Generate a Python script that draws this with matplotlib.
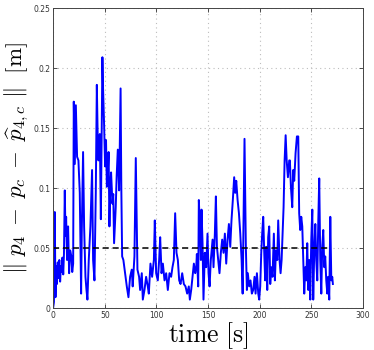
import numpy as np
import matplotlib
matplotlib.use('Agg')
import matplotlib.pyplot as plt

plt.rcParams['mathtext.fontset'] = 'cm'

# error signal (time in s, error in m)
time_s = np.array([
    0, 0.8, 1.6, 2.3, 3.0, 3.7, 4.5, 5.2, 6.0, 6.8, 7.5, 8.3, 9.0, 9.8, 10.5,
    11.3, 12.0, 12.6, 13.5, 14.5, 15.5, 16.5, 17.7, 18.5, 19.4, 20.0, 21.0,
    22.0, 23.2, 24.5, 25.8, 27.1, 27.7, 29.0, 30.0, 31.3, 32.3, 33.2, 34.5,
    36.1, 37.7, 38.7, 40.0, 41.3, 42.3, 43.2, 43.9, 45.2, 46.2, 47.0, 47.7,
    48.3, 49.4, 50.3, 51.2, 52.0, 52.9, 53.7, 54.5, 55.3, 56.1, 57.4, 58.2,
    59.0, 60.6, 61.5, 62.6, 63.9, 64.6, 65.3, 66.0, 66.8, 68.0, 69.7, 71.3,
    72.9, 74.5, 76.1, 77.0, 78.7, 80.0, 81.6, 83.2, 84.2, 85.8, 86.8, 88.4,
    90.0, 91.6, 92.6, 94.2, 95.8, 97.5, 98.4, 99.7, 101.3, 102.6, 103.6,
    104.9, 106.2, 107.8, 109.4, 111.0, 112.6, 114.2, 115.5, 116.8, 118.1,
    119.4, 120.7, 122.0, 123.3, 124.9, 126.5, 128.1, 129.7, 131.3, 132.3,
    133.6, 134.9, 136.2, 137.5, 138.5, 139.1, 140.4, 141.0, 142.0, 143.0,
    143.6, 144.6, 145.5, 146.8, 148.1, 149.4, 150.4, 151.4, 152.6, 154.3,
    155.2, 156.5, 157.5, 158.5, 159.7, 161.0, 162.3, 163.6, 164.9, 166.2,
    167.5, 168.8, 170.1, 171.4, 172.6, 173.9, 175.2, 176.2, 177.2, 178.5,
    179.8, 181.1, 182.4, 183.4, 185.2, 186.5, 187.5, 188.4, 189.7, 191.0,
    192.3, 193.6, 194.9, 195.9, 197.2, 198.5, 199.4, 200.4, 201.4, 202.3,
    203.3, 204.3, 205.2, 206.2, 207.2, 208.1, 209.1, 210.1, 211.0, 212.3,
    213.6, 214.6, 215.6, 216.9, 217.8, 219.1, 220.1, 221.1, 222.1, 223.0,
    224.0, 225.0, 226.0, 227.2, 228.5, 229.1, 230.1, 231.4, 232.3, 233.3,
    234.6, 235.9, 237.2, 238.1, 239.1, 240.1, 241.1, 242.0, 243.0, 244.0,
    245.0, 245.9, 246.9, 247.9, 248.8, 249.8, 250.8, 251.7, 252.7, 253.7,
    254.6, 255.6, 256.6, 257.5, 258.5, 259.5, 260.4, 261.4, 262.4, 263.3,
    264.3, 265.3, 266.2, 267.2, 268.2, 269.2, 270.1, 270.7])

err_m = np.array([
    0.000, 0.005, 0.080, 0.009, 0.035, 0.020, 0.038, 0.025, 0.040, 0.022,
    0.035, 0.030, 0.042, 0.028, 0.045, 0.098, 0.060, 0.076, 0.040, 0.068,
    0.029, 0.048, 0.043, 0.030, 0.037, 0.172, 0.120, 0.169, 0.126, 0.123,
    0.096, 0.012, 0.062, 0.130, 0.068, 0.026, 0.015, 0.007, 0.040, 0.068,
    0.115, 0.040, 0.023, 0.096, 0.186, 0.140, 0.123, 0.145, 0.074, 0.150,
    0.209, 0.184, 0.151, 0.118, 0.140, 0.101, 0.112, 0.130, 0.068, 0.100,
    0.113, 0.087, 0.095, 0.054, 0.084, 0.110, 0.132, 0.098, 0.140, 0.183,
    0.100, 0.043, 0.040, 0.029, 0.018, 0.009, 0.026, 0.032, 0.018, 0.043,
    0.125, 0.032, 0.026, 0.015, 0.029, 0.007, 0.015, 0.026, 0.018, 0.012,
    0.037, 0.026, 0.040, 0.073, 0.029, 0.023, 0.040, 0.059, 0.029, 0.037,
    0.023, 0.029, 0.015, 0.029, 0.026, 0.034, 0.040, 0.079, 0.046, 0.040,
    0.023, 0.020, 0.029, 0.020, 0.018, 0.012, 0.018, 0.007, 0.015, 0.026,
    0.037, 0.029, 0.034, 0.045, 0.018, 0.090, 0.068, 0.040, 0.082, 0.054,
    0.007, 0.046, 0.034, 0.062, 0.029, 0.018, 0.040, 0.057, 0.034, 0.062,
    0.093, 0.051, 0.040, 0.029, 0.046, 0.057, 0.046, 0.062, 0.037, 0.057,
    0.070, 0.051, 0.073, 0.090, 0.109, 0.096, 0.106, 0.090, 0.079, 0.062,
    0.040, 0.012, 0.141, 0.051, 0.015, 0.029, 0.018, 0.023, 0.012, 0.015,
    0.026, 0.012, 0.029, 0.012, 0.007, 0.018, 0.046, 0.062, 0.076, 0.046,
    0.023, 0.051, 0.015, 0.059, 0.068, 0.020, 0.034, 0.026, 0.062, 0.023,
    0.048, 0.040, 0.073, 0.040, 0.029, 0.040, 0.062, 0.084, 0.123, 0.144,
    0.123, 0.109, 0.123, 0.123, 0.101, 0.084, 0.115, 0.106, 0.129, 0.143,
    0.143, 0.079, 0.065, 0.076, 0.068, 0.040, 0.012, 0.034, 0.023, 0.054,
    0.015, 0.040, 0.007, 0.057, 0.082, 0.007, 0.048, 0.070, 0.040, 0.023,
    0.073, 0.108, 0.040, 0.012, 0.051, 0.065, 0.034, 0.043, 0.023, 0.012,
    0.026, 0.007, 0.076, 0.023, 0.026, 0.020])

threshold = 0.05
thresh_t = [0, 268]

fig = plt.figure(figsize=(3.74, 3.5), dpi=100)
ax = fig.add_axes([0.142, 0.12, 0.829, 0.857])

ax.plot(time_s, err_m, color='#0000ff', linewidth=1.4)
ax.plot(thresh_t, [threshold, threshold], 'k--', linewidth=1.1, dashes=(4, 2.5))

ax.set_xlim(0, 300)
ax.set_ylim(0, 0.25)
ax.set_xticks(np.arange(0, 301, 50))
ax.set_yticks([0, 0.05, 0.1, 0.15, 0.2, 0.25])
ax.set_yticklabels(['0', '0.05', '0.1', '0.15', '0.2', '0.25'])

ax.grid(True, linestyle=(0, (1, 3)), color='#bdbdbd', linewidth=0.8)
ax.tick_params(direction='in', length=3, width=0.6, labelsize=5.5,
               top=True, right=True, pad=2, colors='#333333')
for s in ax.spines.values():
    s.set_linewidth(0.7)
    s.set_color('#444444')

ax.set_xlabel(r'$\mathrm{time}\ [\mathrm{s}]$', fontsize=18.5, labelpad=0)
ax.set_ylabel(r'$\Vert\ p_4\; -\; p_c\; -\; \widehat{p}_{4,c}\ \Vert\ \ [\mathrm{m}]$',
              fontsize=16.5)
# anchor is the label's right edge once rotated
ax.yaxis.set_label_coords(-0.072, 0.5)

fig.savefig('out.png', dpi=100)
